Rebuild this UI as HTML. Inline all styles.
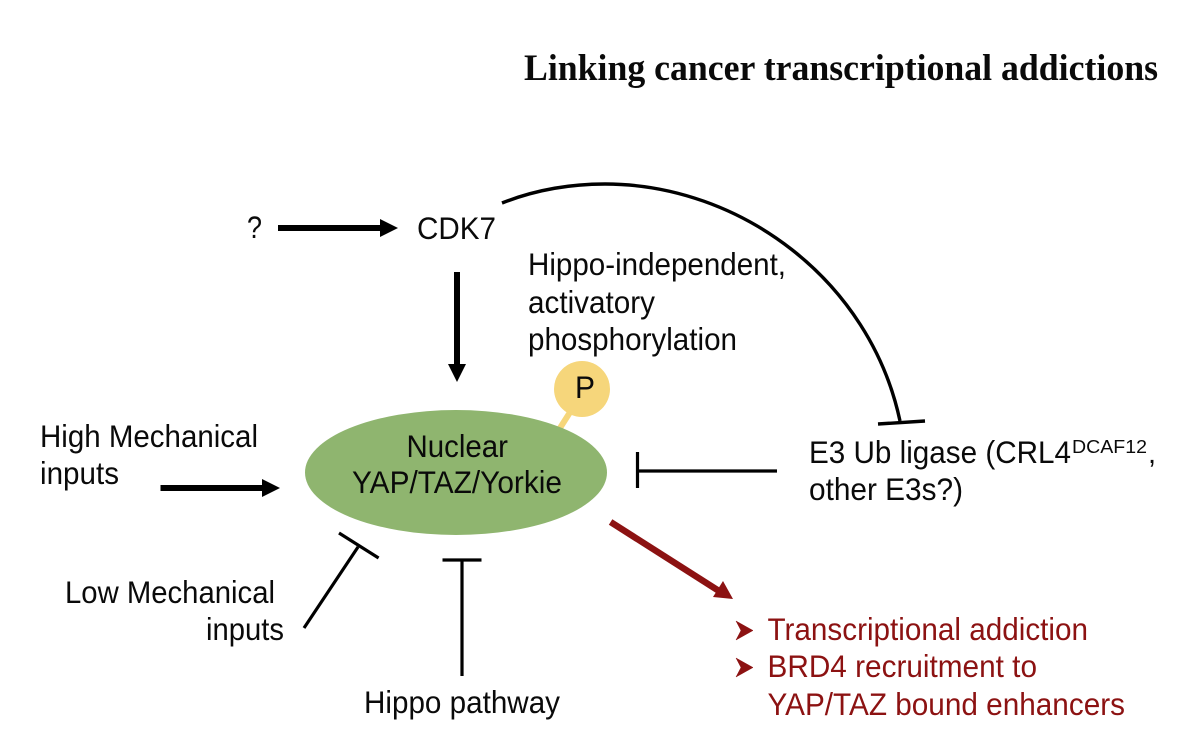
<!DOCTYPE html>
<html><head><meta charset="utf-8"><style>
html,body{margin:0;padding:0;background:#fff;width:1200px;height:749px;overflow:hidden}
svg{display:block;filter:blur(0.35px)}
text{font-family:"Liberation Sans",sans-serif;font-size:31.5px;fill:#0a0a0a}
.r{fill:#8c1212}
</style></head><body>
<svg width="1200" height="749" viewBox="0 0 1200 749" xmlns="http://www.w3.org/2000/svg">
<text x="524" y="80" textLength="634" lengthAdjust="spacingAndGlyphs" style="font-family:'Liberation Serif',serif;font-weight:bold;font-size:37px">Linking cancer transcriptional addictions</text>

<path d="M502 203Q550 184 605 184C740 184 870 280 900 421" fill="none" stroke="#000" stroke-width="3.4"/>
<path d="M878 424L925 421" stroke="#000" stroke-width="3.4"/>

<path d="M278 225H380V219L398 228L380 237V231H278Z" fill="#000"/>
<path d="M454 272H460V364H466L457 382L448 364H454Z" fill="#000"/>
<path d="M160.500 485H262V479L280 488L262 497V491H160.500Z" fill="#000"/>

<path d="M304 628L358 547M339 533L378.600 558" stroke="#000" stroke-width="3.2" fill="none"/>
<path d="M462 560V676M442.500 560H481.500" stroke="#000" stroke-width="3.2" fill="none"/>
<path d="M637.500 452V488M637.500 471H777" stroke="#000" stroke-width="3.2" fill="none"/>

<path d="M610.600 522L719 591" stroke="#8c1212" stroke-width="6.500" fill="none"/>
<path d="M733 599L713 597L723 581Z" fill="#8c1212"/>

<path d="M560 428L574 406" stroke="#f6d67b" stroke-width="6"/>
<circle cx="582" cy="389" r="28" fill="#f6d67b"/>
<ellipse cx="456" cy="472.500" rx="151" ry="62.500" fill="#8fb56f"/>

<text x="247" y="238" textLength="15" lengthAdjust="spacingAndGlyphs">?</text>
<text x="417" y="239" textLength="79" lengthAdjust="spacingAndGlyphs">CDK7</text>
<text x="528" y="275" textLength="258" lengthAdjust="spacingAndGlyphs">Hippo-independent,</text>
<text x="528" y="313" textLength="127" lengthAdjust="spacingAndGlyphs">activatory</text>
<text x="528" y="350" textLength="209" lengthAdjust="spacingAndGlyphs">phosphorylation</text>
<text x="575" y="398" textLength="20" lengthAdjust="spacingAndGlyphs">P</text>
<text x="406.500" y="457" textLength="101.500" lengthAdjust="spacingAndGlyphs">Nuclear</text>
<text x="352" y="493" textLength="210" lengthAdjust="spacingAndGlyphs">YAP/TAZ/Yorkie</text>
<text x="40" y="447" textLength="218" lengthAdjust="spacingAndGlyphs">High Mechanical</text>
<text x="40" y="484" textLength="79" lengthAdjust="spacingAndGlyphs">inputs</text>
<text x="65" y="603" textLength="210" lengthAdjust="spacingAndGlyphs">Low Mechanical</text>
<text x="206" y="640" textLength="78" lengthAdjust="spacingAndGlyphs">inputs</text>
<text x="364" y="713" textLength="196" lengthAdjust="spacingAndGlyphs">Hippo pathway</text>
<text x="809" y="463" textLength="262" lengthAdjust="spacingAndGlyphs">E3 Ub ligase (CRL4</text>
<text x="1072" y="453" textLength="75" lengthAdjust="spacingAndGlyphs" style="font-size:18px">DCAF12</text>
<text x="1148" y="463" style="font-size:29px">,</text>
<text x="809" y="500" textLength="154" lengthAdjust="spacingAndGlyphs">other E3s?)</text>

<path d="M736 621L753 630.500L736 640L741 630.500Z" fill="#8c1212" stroke="#8c1212" stroke-width="0.500"/>
<path d="M736 658L753 667.500L736 677L741 667.500Z" fill="#8c1212" stroke="#8c1212" stroke-width="0.500"/>
<text class="r" x="767.500" y="640" textLength="320.500" lengthAdjust="spacingAndGlyphs">Transcriptional addiction</text>
<text class="r" x="767.500" y="677" textLength="269.500" lengthAdjust="spacingAndGlyphs">BRD4 recruitment to</text>
<text class="r" x="767.500" y="715" textLength="357.500" lengthAdjust="spacingAndGlyphs">YAP/TAZ bound enhancers</text>
</svg>
</body></html>
